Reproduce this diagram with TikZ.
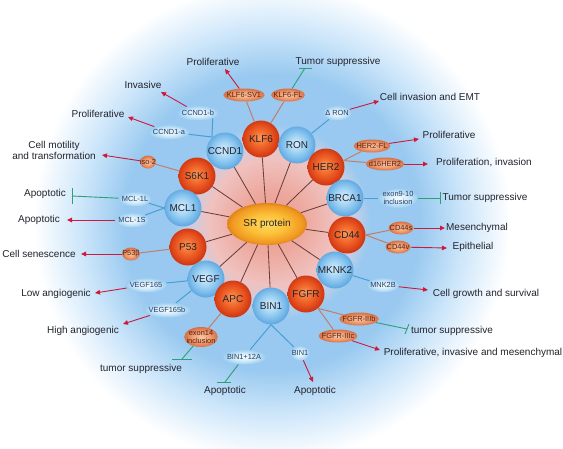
\documentclass[tikz,border=0pt]{standalone}
\usepackage{fontspec}
\setmainfont{Liberation Sans}
\usetikzlibrary{shapes.geometric,arrows.meta}

\definecolor{spokec}{RGB}{105,65,55}
\definecolor{bluelinec}{RGB}{70,160,215}
\definecolor{brownlinec}{RGB}{195,125,105}
\definecolor{redarrowc}{RGB}{205,25,60}
\definecolor{inhc}{RGB}{45,160,120}
\definecolor{txtc}{RGB}{35,35,45}
\definecolor{btxtc}{RGB}{40,60,100}
\definecolor{otxtc}{RGB}{85,35,20}

\pgfdeclareradialshading{bgglow}{\pgfpoint{0bp}{0bp}}{rgb(0bp)=(0.92,0.60,0.56); rgb(3bp)=(0.93,0.66,0.62); rgb(6bp)=(0.94,0.76,0.75); rgb(7.8bp)=(0.78,0.81,0.90); rgb(9.2bp)=(0.60,0.79,0.94); rgb(14bp)=(0.60,0.79,0.94); rgb(18bp)=(0.80,0.90,0.98); rgb(22.5bp)=(1,1,1); rgb(50bp)=(1,1,1)}
\pgfdeclareradialshading{orangeball}{\pgfpoint{-2bp}{2bp}}{rgb(0bp)=(0.98,0.60,0.34); rgb(10bp)=(0.95,0.42,0.18); rgb(20bp)=(0.88,0.28,0.10); rgb(25bp)=(0.80,0.22,0.08); rgb(50bp)=(0.80,0.22,0.08)}
\pgfdeclareradialshading{blueball}{\pgfpoint{-2bp}{2bp}}{rgb(0bp)=(0.84,0.93,0.99); rgb(10bp)=(0.66,0.84,0.96); rgb(20bp)=(0.47,0.73,0.92); rgb(25bp)=(0.38,0.66,0.88); rgb(50bp)=(0.38,0.66,0.88)}
\pgfdeclareradialshading{srshade}{\pgfpoint{0bp}{0bp}}{rgb(0bp)=(1,0.86,0.38); rgb(12bp)=(0.99,0.75,0.22); rgb(22bp)=(0.94,0.60,0.13); rgb(25bp)=(0.88,0.52,0.10); rgb(50bp)=(0.88,0.52,0.10)}
\pgfdeclareradialshading{smallblue}{\pgfpoint{0bp}{0bp}}{rgb(0bp)=(0.96,0.99,1); rgb(13bp)=(0.82,0.92,0.98); rgb(25bp)=(0.60,0.80,0.94); rgb(50bp)=(0.60,0.80,0.94)}
\pgfdeclareradialshading{smallorange}{\pgfpoint{0bp}{0bp}}{rgb(0bp)=(0.98,0.78,0.64); rgb(13bp)=(0.94,0.62,0.45); rgb(25bp)=(0.84,0.44,0.27); rgb(50bp)=(0.84,0.44,0.27)}

\tikzset{
  bigorange/.style={circle, minimum size=37pt, inner sep=0pt, shading=orangeball, font=\fontsize{10}{12}\selectfont, text=txtc},
  bigblue/.style={circle, minimum size=37pt, inner sep=0pt, shading=blueball, font=\fontsize{10}{12}\selectfont, text=txtc},
  sobox/.style={ellipse, inner xsep=-2.5pt, inner ysep=0pt, minimum height=13pt, shading=smallorange, font=\fontsize{7.4}{7.6}\selectfont, text=otxtc, align=center},
  sbbox/.style={ellipse, inner xsep=-1.5pt, inner ysep=0pt, minimum height=15pt, shading=smallblue, font=\fontsize{7.4}{7.6}\selectfont, text=btxtc, align=center},
  lbl/.style={font=\fontsize{10}{11}\selectfont, text=txtc, inner sep=0pt, align=center},
  spoke/.style={draw=spokec, line width=0.85pt},
  bline/.style={draw=bluelinec, line width=1pt},
  oline/.style={draw=brownlinec, line width=1pt},
  actarrow/.style={draw=redarrowc, line width=0.9pt, -{Triangle[length=5pt,width=4.5pt]}},
  inhline/.style={draw=inhc, line width=0.9pt}
}

\begin{document}
\begin{tikzpicture}[x=1pt,y=-1pt]
\useasboundingbox (0,0) rectangle (563,448);
\fill[white] (0,0) rectangle (563,448);
\begin{scope}
\clip (0,0) rectangle (563,448);
\shade[shading=bgglow] (272,222) circle[radius=265pt];
\end{scope}

% centre
\node[ellipse, minimum width=80pt, minimum height=42pt, inner sep=0pt, shading=srshade, font=\fontsize{10}{12}\selectfont, text=txtc] (sr) at (267,224) {SR protein};

% big circles
\node[bigblue]   (ccnd1) at (225,151) {CCND1};
\node[bigorange] (klf6)  at (261,139) {KLF6};
\node[bigblue]   (ron)   at (297,145) {RON};
\node[bigorange] (her2)  at (326,167) {HER2};
\node[bigorange] (s6k1)  at (197,176) {S6K1};
\node[bigblue]   (brca1) at (345,198) {BRCA1};
\node[bigblue]   (mcl1)  at (183,208) {MCL1};
\node[bigorange] (cd44)  at (347,235) {CD44};
\node[bigorange] (p53)   at (188,247) {P53};
\node[bigblue]   (mknk2) at (335,270) {MKNK2};
\node[bigblue]   (vegf)  at (206,279) {VEGF};
\node[bigorange] (fgfr)  at (306,294) {FGFR};
\node[bigorange] (apc)   at (233,299) {APC};
\node[bigblue]   (bin1)  at (271,306) {BIN1};

% spokes
\foreach \n in {ccnd1,klf6,ron,her2,s6k1,brca1,mcl1,cd44,p53,mknk2,vegf,fgfr,apc,bin1}
  \draw[spoke] (sr) -- (\n);

% small isoforms
\node[sobox] (klfsv1)  at (244,95)  {KLF6-SV1};
\node[sobox] (klffl)   at (288,95)  {KLF6-FL};
\node[sbbox] (dron)    at (337,113) {Δ RON};
\node[sbbox] (ccndb)   at (198,113) {CCND1-b};
\node[sbbox] (ccnda)   at (169,132) {CCND1-a};
\node[sobox] (her2fl)  at (372,146) {HER2-FL};
\node[sobox] (d16)     at (385,164) {d16HER2};
\node[sobox] (iso2)    at (148,162) {iso-2};
\node[sbbox] (mcl1l)   at (135,199) {MCL-1L};
\node[sbbox] (mcl1s)   at (132,220) {MCL-1S};
\node[sobox] (p53b)    at (131,254) {P53β};
\node[sbbox] (vegf165) at (146,285) {VEGF165};
\node[sbbox] (vegf165b) at (167,310) {VEGF165b};
\node[sobox, minimum height=20pt] (exon14) at (201,337) {exon14\\inclusion};
\node[sbbox] (bin12a)  at (244,357) {BIN1+12A};
\node[sbbox] (bin1s)   at (300,353) {BIN1};
\node[sobox] (fgfrb)   at (359,319) {FGFR-IIIb};
\node[sobox] (fgfrc)   at (338,336) {FGFR-IIIc};
\node[sbbox, minimum height=20pt] (exon910) at (398,198) {exon9-10\\inclusion};
\node[sobox] (cd44s)   at (401,228) {CD44s};
\node[sobox] (cd44v)   at (398,247) {CD44v};
\node[sbbox] (mnk2b)   at (383,285) {MNK2B};

% gene -> isoform connectors
\coordinate (cj) at (212,137);
\draw[oline] (klf6) -- (klfsv1);
\draw[oline] (klf6) -- (klffl);
\draw[bline] (ccnda) -- (cj);
\draw[bline] (ccndb.south east) -- (cj);
\draw[bline] (ron) -- (dron);
\draw[oline] (her2.20) -- (her2fl);
\draw[oline] (her2.20) -- (d16);
\draw[oline] (s6k1) -- (iso2);
\draw[bline] (brca1) -- (exon910);
\draw[bline] (mcl1.west) -- (mcl1l);
\draw[bline] (mcl1.west) -- (mcl1s);
\draw[oline] (cd44.east) -- (cd44s);
\draw[oline] (cd44.east) -- (cd44v);
\draw[oline] (p53) -- (p53b);
\draw[bline] (vegf) -- (vegf165);
\draw[bline] (vegf) -- (vegf165b);
\draw[bline] (mknk2) -- (mnk2b);
\draw[oline] (apc) -- (exon14);
\draw[bline] (bin1.south) -- (bin12a);
\draw[bline] (bin1.south) -- (bin1s);
\draw[oline] (fgfr.-50) -- (fgfrb);
\draw[oline] (fgfr.-50) -- (fgfrc);

% outcome labels
\node[lbl] (tprol1) at (213,62)  {Proliferative};
\node[lbl] (ttum1)  at (338,62)  {Tumor suppressive};
\node[lbl] (tinv)   at (143,85)  {Invasive};
\node[lbl] (tprol2) at (98,114)  {Proliferative};
\node[lbl] (tmot)   at (54,150)  {Cell motility\\and transformation};
\node[lbl] (temt)   at (430,97)  {Cell invasion and EMT};
\node[lbl] (tprol3) at (449,135) {Proliferative};
\node[lbl] (tpi)    at (484,163) {Proliferation, invasion};
\node[lbl] (ttum2)  at (485,198) {Tumor suppressive};
\node[lbl] (tmes)   at (477,228) {Mesenchymal};
\node[lbl] (tepi)   at (473,247) {Epithelial};
\node[lbl] (tcgs)   at (486,294) {Cell growth and survival};
\node[lbl] (ttum3)  at (452,331) {tumor suppressive};
\node[lbl] (tpim)   at (473,353) {Proliferative, invasive and mesenchymal};
\node[lbl] (tapo1)  at (315,391) {Apoptotic};
\node[lbl] (tapo2)  at (225,391) {Apoptotic};
\node[lbl] (ttum4)  at (141,369) {tumor suppressive};
\node[lbl] (thigh)  at (83,331)  {High angiogenic};
\node[lbl] (tlow)   at (56,294)  {Low angiogenic};
\node[lbl] (tsen)   at (39,254)  {Cell senescence};
\node[lbl] (tapo3)  at (39,220)  {Apoptotic};
\node[lbl] (tapo4)  at (45,194)  {Apoptotic};

% arrow tips
\coordinate (a1) at (225,69);
\coordinate (a2) at (161,92);
\coordinate (a3) at (128,117);
\coordinate (a4) at (379,101);
\coordinate (a5) at (419,139);
\coordinate (a6) at (428,164);
\coordinate (a7) at (445,228);
\coordinate (a8) at (447,248);
\coordinate (a9) at (428,290);
\coordinate (a10) at (380,350);
\coordinate (a11) at (313,382);
\coordinate (a12) at (123,324);
\coordinate (a13) at (95,293);
\coordinate (a14) at (81,254);
\coordinate (a15) at (67,220);
\coordinate (a16) at (102,155);

\draw[actarrow] (klfsv1) -- (a1);
\draw[actarrow] (ccndb) -- (a2);
\draw[actarrow] (ccnda) -- (a3);
\draw[actarrow] (dron) -- (a4);
\draw[actarrow] (her2fl) -- (a5);
\draw[actarrow] (d16) -- (a6);
\draw[actarrow] (cd44s) -- (a7);
\draw[actarrow] (cd44v) -- (a8);
\draw[actarrow] (mnk2b) -- (a9);
\draw[actarrow] (fgfrc) -- (a10);
\draw[actarrow] (bin1s) -- (a11);
\draw[actarrow] (vegf165b) -- (a12);
\draw[actarrow] (vegf165) -- (a13);
\draw[actarrow] (p53b) -- (a14);
\draw[actarrow] (mcl1s) -- (a15);
\draw[actarrow] (iso2) -- (a16);

% inhibition ends
\coordinate (i1) at (305,68);  \coordinate (i1a) at (299,68);  \coordinate (i1b) at (312,68);
\coordinate (i2) at (440,198); \coordinate (i2a) at (440,192); \coordinate (i2b) at (440,204);
\coordinate (i3) at (407,329); \coordinate (i3a) at (409,324); \coordinate (i3b) at (405,334);
\coordinate (i4) at (225,382); \coordinate (i4a) at (217,382); \coordinate (i4b) at (231,382);
\coordinate (i5) at (182,359); \coordinate (i5a) at (172,359); \coordinate (i5b) at (192,359);
\coordinate (i6) at (72,196);  \coordinate (i6a) at (72,188);  \coordinate (i6b) at (72,204);

\draw[inhline] (klffl) -- (i1);   \draw[inhline] (i1a) -- (i1b);
\draw[inhline] (exon910) -- (i2); \draw[inhline] (i2a) -- (i2b);
\draw[inhline] (fgfrb) -- (i3);   \draw[inhline] (i3a) -- (i3b);
\draw[inhline] (bin12a) -- (i4);  \draw[inhline] (i4a) -- (i4b);
\draw[inhline] (exon14) -- (i5);  \draw[inhline] (i5a) -- (i5b);
\draw[inhline] (mcl1l) -- (i6);   \draw[inhline] (i6a) -- (i6b);
\end{tikzpicture}
\end{document}
